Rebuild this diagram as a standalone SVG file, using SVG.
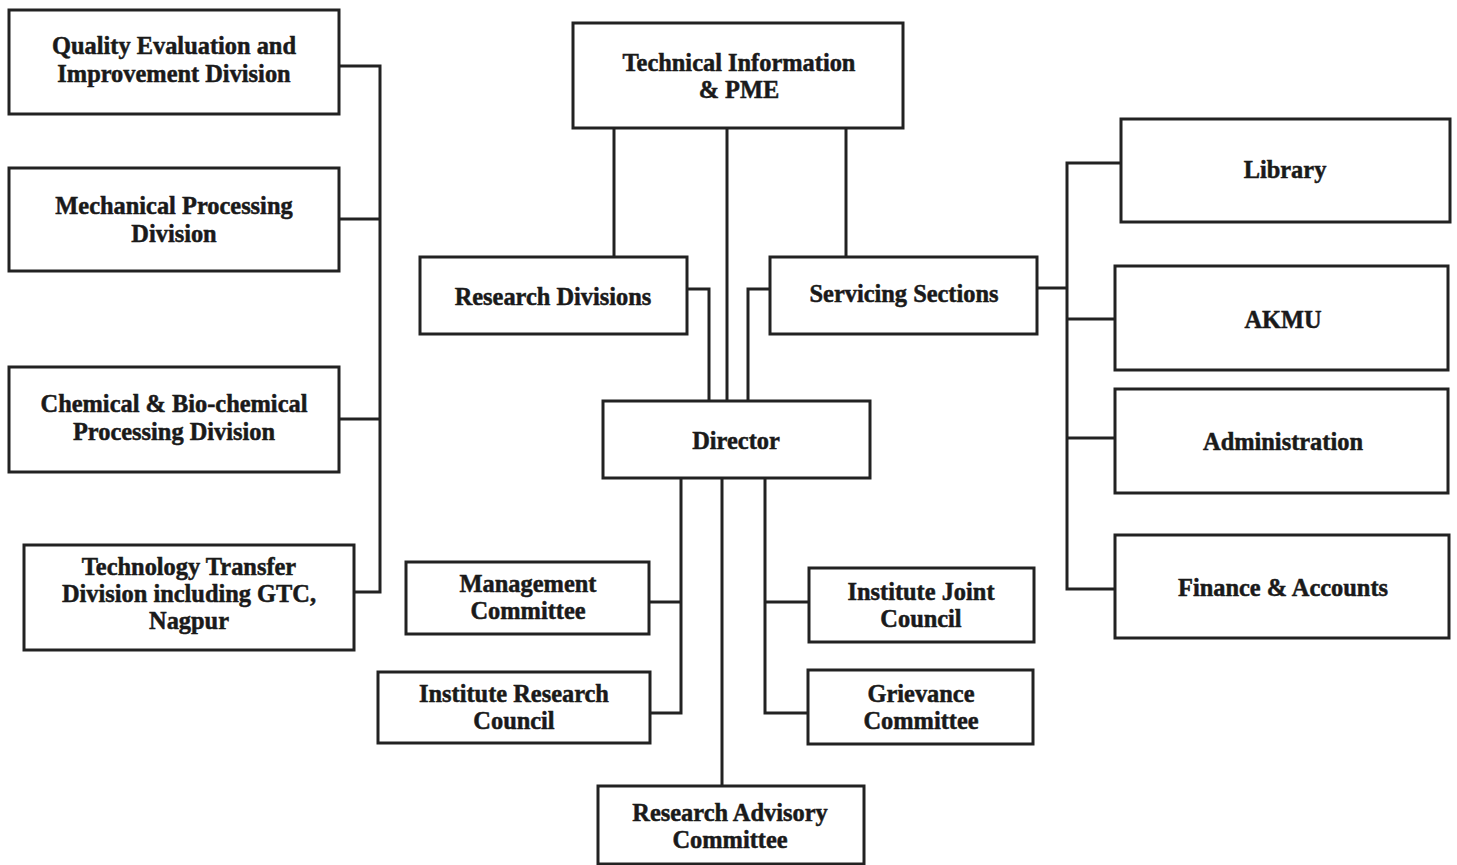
<svg xmlns="http://www.w3.org/2000/svg" width="1457" height="865" viewBox="0 0 1457 865">
<style>
.box{fill:#fff;stroke:#222;stroke-width:3}
.ln{fill:none;stroke:#222;stroke-width:3}
text{font-family:"Liberation Serif","Times New Roman",serif;font-weight:bold;font-size:24.4px;fill:#1a1a1a;stroke:#1a1a1a;stroke-width:0.5;text-anchor:middle}
</style>
<rect width="1457" height="865" fill="#fff"/>
<g id="connectors">
<polyline class="ln" points="339,66 380,66 380,592 354,592"/>
<line class="ln" x1="339" y1="219" x2="380" y2="219"/>
<line class="ln" x1="339" y1="419" x2="380" y2="419"/>
<line class="ln" x1="614" y1="128" x2="614" y2="257"/>
<line class="ln" x1="727" y1="128" x2="727" y2="401"/>
<line class="ln" x1="846" y1="128" x2="846" y2="257"/>
<polyline class="ln" points="687,289 709,289 709,401"/>
<polyline class="ln" points="770,289 748,289 748,401"/>
<polyline class="ln" points="681,478 681,713 650,713"/>
<line class="ln" x1="649" y1="602" x2="681" y2="602"/>
<line class="ln" x1="722" y1="478" x2="722" y2="786"/>
<polyline class="ln" points="765,478 765,713 808,713"/>
<line class="ln" x1="765" y1="602" x2="809" y2="602"/>
<line class="ln" x1="1037" y1="288" x2="1067" y2="288"/>
<polyline class="ln" points="1121,163 1067,163 1067,589 1115,589"/>
<line class="ln" x1="1067" y1="319" x2="1115" y2="319"/>
<line class="ln" x1="1067" y1="438" x2="1115" y2="438"/>
</g>
<g id="quality"><rect class="box" x="9" y="10" width="330" height="104"/><text x="174" y="54">Quality Evaluation and</text><text x="174" y="82">Improvement Division</text></g>
<g id="mechanical"><rect class="box" x="9" y="168" width="330" height="103"/><text x="174" y="214">Mechanical Processing</text><text x="174" y="242">Division</text></g>
<g id="chemical"><rect class="box" x="9" y="367" width="330" height="105"/><text x="174" y="412">Chemical &amp; Bio-chemical</text><text x="174" y="440">Processing Division</text></g>
<g id="techtransfer"><rect class="box" x="24" y="545" width="330" height="105"/><text x="189" y="575">Technology Transfer</text><text x="189" y="602">Division including GTC,</text><text x="189" y="629">Nagpur</text></g>
<g id="techinfo"><rect class="box" x="573" y="23" width="330" height="105"/><text x="739" y="71">Technical Information</text><text x="739" y="98">&amp; PME</text></g>
<g id="researchdiv"><rect class="box" x="420" y="257" width="267" height="77"/><text x="553" y="305">Research Divisions</text></g>
<g id="servicing"><rect class="box" x="770" y="257" width="267" height="77"/><text x="904" y="302">Servicing Sections</text></g>
<g id="director"><rect class="box" x="603" y="401" width="267" height="77"/><text x="736" y="449">Director</text></g>
<g id="mgmt"><rect class="box" x="406" y="562" width="243" height="72"/><text x="528" y="592">Management</text><text x="528" y="619">Committee</text></g>
<g id="irc"><rect class="box" x="378" y="672" width="272" height="71"/><text x="514" y="702">Institute Research</text><text x="514" y="729">Council</text></g>
<g id="ijc"><rect class="box" x="809" y="568" width="225" height="74"/><text x="921" y="600">Institute Joint</text><text x="921" y="627">Council</text></g>
<g id="grievance"><rect class="box" x="808" y="670" width="225" height="74"/><text x="921" y="702">Grievance</text><text x="921" y="729">Committee</text></g>
<g id="rac"><rect class="box" x="598" y="786" width="266" height="78"/><text x="730" y="821">Research Advisory</text><text x="730" y="848">Committee</text></g>
<g id="library"><rect class="box" x="1121" y="119" width="329" height="103"/><text x="1285" y="178">Library</text></g>
<g id="akmu"><rect class="box" x="1115" y="266" width="333" height="104"/><text x="1283" y="328">AKMU</text></g>
<g id="admin"><rect class="box" x="1115" y="389" width="333" height="104"/><text x="1283" y="450">Administration</text></g>
<g id="finance"><rect class="box" x="1115" y="535" width="334" height="103"/><text x="1283" y="596">Finance &amp; Accounts</text></g>
</svg>
